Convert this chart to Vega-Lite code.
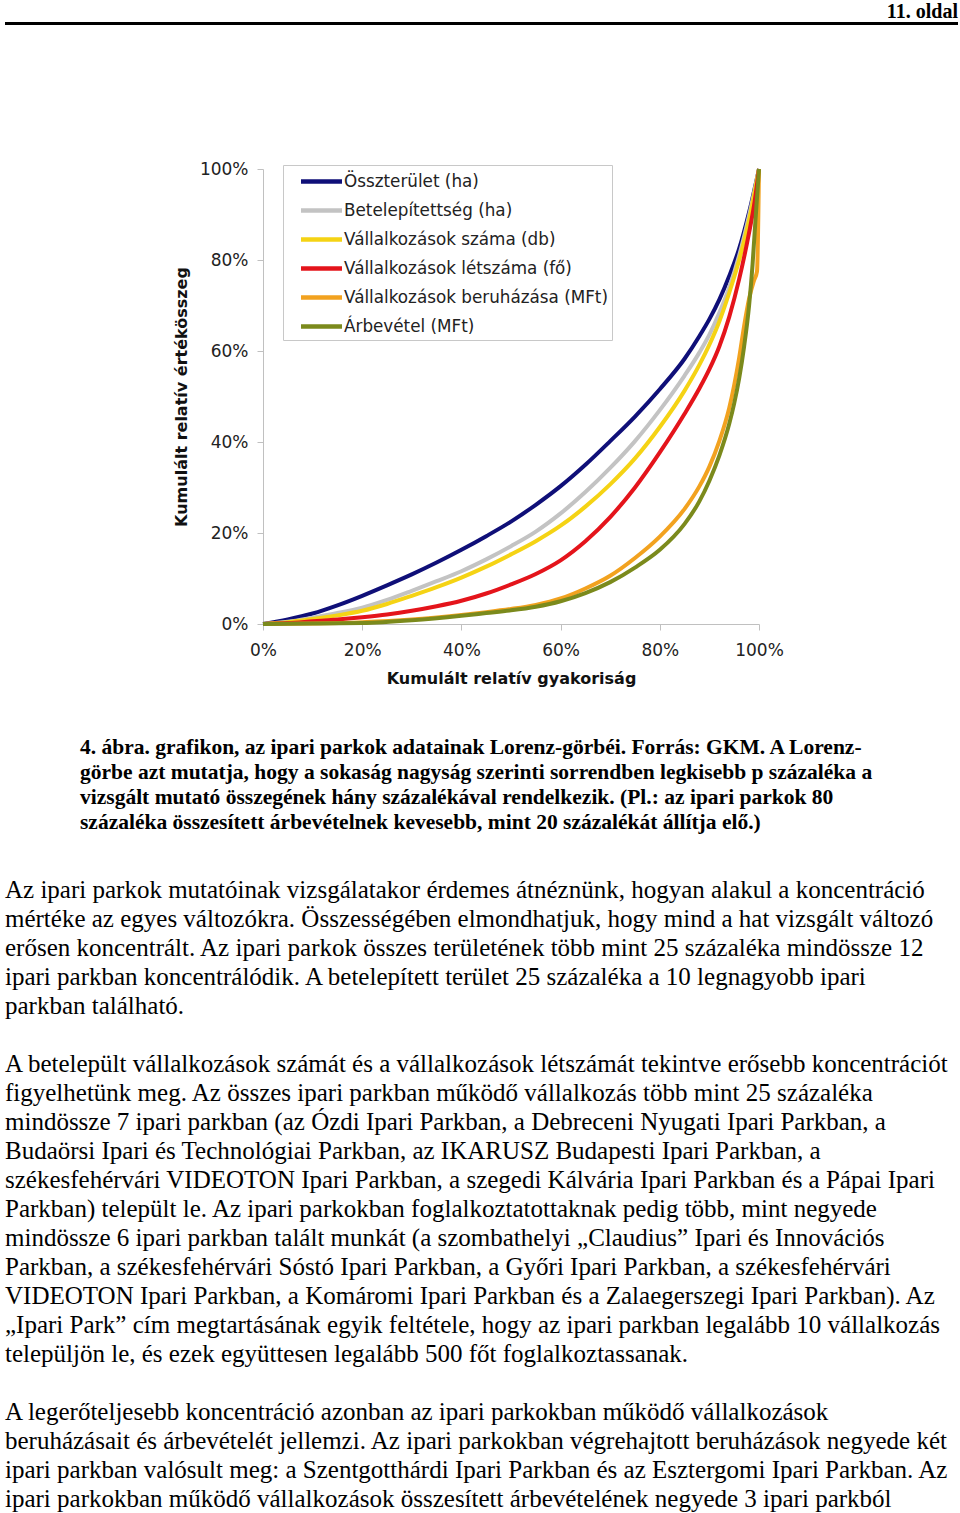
{
  "$schema": "https://vega.github.io/schema/vega-lite/v6.json",
  "background": "white",
  "padding": {"left": 5, "top": 2, "right": 0, "bottom": 0},
  "spacing": 0,
  "bounds": "full",
  "config": {"view": {"stroke": null}},
  "vconcat": [
    {
      "width": 953,
      "height": 3,
      "view": {"fill": "black", "stroke": null},
      "data": {"values": []},
      "mark": "point",
      "encoding": {},
      "title": {"text": "11. oldal", "anchor": "end", "font": "Liberation Serif", "fontSize": 20, "fontWeight": "bold", "color": "black", "offset": 0}
    },
    {"width": 1, "height": 134.5, "data": {"values": []}, "mark": "point", "encoding": {}},
    {
      "spacing": 0,
      "bounds": "flush",
      "hconcat": [
        {"width": 258, "height": 455, "data": {"values": []}, "mark": "point", "encoding": {}},
        {
          "width": 496,
          "height": 455,
          "data": {"values": [
            {"s": "Összterület (ha)", "x": 0, "y": 0},
            {"s": "Összterület (ha)", "x": 0.05, "y": 0.010},
            {"s": "Összterület (ha)", "x": 0.10, "y": 0.023},
            {"s": "Összterület (ha)", "x": 0.15, "y": 0.041},
            {"s": "Összterület (ha)", "x": 0.20, "y": 0.062},
            {"s": "Összterület (ha)", "x": 0.25, "y": 0.085},
            {"s": "Összterület (ha)", "x": 0.30, "y": 0.109},
            {"s": "Összterület (ha)", "x": 0.35, "y": 0.135},
            {"s": "Összterület (ha)", "x": 0.40, "y": 0.163},
            {"s": "Összterület (ha)", "x": 0.45, "y": 0.193},
            {"s": "Összterület (ha)", "x": 0.50, "y": 0.225},
            {"s": "Összterület (ha)", "x": 0.55, "y": 0.262},
            {"s": "Összterület (ha)", "x": 0.60, "y": 0.303},
            {"s": "Összterület (ha)", "x": 0.65, "y": 0.350},
            {"s": "Összterület (ha)", "x": 0.70, "y": 0.402},
            {"s": "Összterület (ha)", "x": 0.75, "y": 0.456},
            {"s": "Összterület (ha)", "x": 0.80, "y": 0.516},
            {"s": "Összterület (ha)", "x": 0.85, "y": 0.583},
            {"s": "Összterület (ha)", "x": 0.88, "y": 0.633},
            {"s": "Összterület (ha)", "x": 0.90, "y": 0.670},
            {"s": "Összterület (ha)", "x": 0.92, "y": 0.713},
            {"s": "Összterület (ha)", "x": 0.94, "y": 0.765},
            {"s": "Összterület (ha)", "x": 0.96, "y": 0.825},
            {"s": "Összterület (ha)", "x": 0.98, "y": 0.905},
            {"s": "Összterület (ha)", "x": 1.00, "y": 1.000},
            {"s": "Betelepítettség (ha)", "x": 0, "y": 0},
            {"s": "Betelepítettség (ha)", "x": 0.05, "y": 0.005},
            {"s": "Betelepítettség (ha)", "x": 0.10, "y": 0.014},
            {"s": "Betelepítettség (ha)", "x": 0.15, "y": 0.024},
            {"s": "Betelepítettség (ha)", "x": 0.20, "y": 0.036},
            {"s": "Betelepítettség (ha)", "x": 0.25, "y": 0.053},
            {"s": "Betelepítettség (ha)", "x": 0.30, "y": 0.073},
            {"s": "Betelepítettség (ha)", "x": 0.35, "y": 0.094},
            {"s": "Betelepítettség (ha)", "x": 0.40, "y": 0.116},
            {"s": "Betelepítettség (ha)", "x": 0.45, "y": 0.142},
            {"s": "Betelepítettség (ha)", "x": 0.50, "y": 0.171},
            {"s": "Betelepítettség (ha)", "x": 0.55, "y": 0.203},
            {"s": "Betelepítettség (ha)", "x": 0.60, "y": 0.243},
            {"s": "Betelepítettség (ha)", "x": 0.65, "y": 0.290},
            {"s": "Betelepítettség (ha)", "x": 0.70, "y": 0.343},
            {"s": "Betelepítettség (ha)", "x": 0.75, "y": 0.402},
            {"s": "Betelepítettség (ha)", "x": 0.80, "y": 0.470},
            {"s": "Betelepítettség (ha)", "x": 0.85, "y": 0.546},
            {"s": "Betelepítettség (ha)", "x": 0.88, "y": 0.597},
            {"s": "Betelepítettség (ha)", "x": 0.90, "y": 0.636},
            {"s": "Betelepítettség (ha)", "x": 0.92, "y": 0.684},
            {"s": "Betelepítettség (ha)", "x": 0.94, "y": 0.740},
            {"s": "Betelepítettség (ha)", "x": 0.96, "y": 0.810},
            {"s": "Betelepítettség (ha)", "x": 0.98, "y": 0.898},
            {"s": "Betelepítettség (ha)", "x": 1.00, "y": 1.000},
            {"s": "Vállalkozások száma (db)", "x": 0, "y": 0},
            {"s": "Vállalkozások száma (db)", "x": 0.05, "y": 0.004},
            {"s": "Vállalkozások száma (db)", "x": 0.10, "y": 0.011},
            {"s": "Vállalkozások száma (db)", "x": 0.15, "y": 0.019},
            {"s": "Vállalkozások száma (db)", "x": 0.20, "y": 0.029},
            {"s": "Vállalkozások száma (db)", "x": 0.25, "y": 0.044},
            {"s": "Vállalkozások száma (db)", "x": 0.30, "y": 0.062},
            {"s": "Vállalkozások száma (db)", "x": 0.35, "y": 0.081},
            {"s": "Vállalkozások száma (db)", "x": 0.40, "y": 0.102},
            {"s": "Vállalkozások száma (db)", "x": 0.45, "y": 0.126},
            {"s": "Vállalkozások száma (db)", "x": 0.50, "y": 0.153},
            {"s": "Vállalkozások száma (db)", "x": 0.55, "y": 0.182},
            {"s": "Vállalkozások száma (db)", "x": 0.60, "y": 0.216},
            {"s": "Vállalkozások száma (db)", "x": 0.65, "y": 0.258},
            {"s": "Vállalkozások száma (db)", "x": 0.70, "y": 0.307},
            {"s": "Vállalkozások száma (db)", "x": 0.75, "y": 0.364},
            {"s": "Vállalkozások száma (db)", "x": 0.80, "y": 0.433},
            {"s": "Vállalkozások száma (db)", "x": 0.85, "y": 0.513},
            {"s": "Vállalkozások száma (db)", "x": 0.88, "y": 0.570},
            {"s": "Vállalkozások száma (db)", "x": 0.90, "y": 0.614},
            {"s": "Vállalkozások száma (db)", "x": 0.92, "y": 0.665},
            {"s": "Vállalkozások száma (db)", "x": 0.94, "y": 0.728},
            {"s": "Vállalkozások száma (db)", "x": 0.96, "y": 0.800},
            {"s": "Vállalkozások száma (db)", "x": 0.98, "y": 0.888},
            {"s": "Vállalkozások száma (db)", "x": 1.00, "y": 1.000},
            {"s": "Vállalkozások létszáma (fő)", "x": 0, "y": 0},
            {"s": "Vállalkozások létszáma (fő)", "x": 0.05, "y": 0.002},
            {"s": "Vállalkozások létszáma (fő)", "x": 0.10, "y": 0.006},
            {"s": "Vállalkozások létszáma (fő)", "x": 0.15, "y": 0.010},
            {"s": "Vállalkozások létszáma (fő)", "x": 0.20, "y": 0.015},
            {"s": "Vállalkozások létszáma (fő)", "x": 0.25, "y": 0.021},
            {"s": "Vállalkozások létszáma (fő)", "x": 0.30, "y": 0.029},
            {"s": "Vállalkozások létszáma (fő)", "x": 0.35, "y": 0.039},
            {"s": "Vállalkozások létszáma (fő)", "x": 0.40, "y": 0.051},
            {"s": "Vállalkozások létszáma (fő)", "x": 0.45, "y": 0.067},
            {"s": "Vállalkozások létszáma (fő)", "x": 0.50, "y": 0.087},
            {"s": "Vállalkozások létszáma (fő)", "x": 0.55, "y": 0.110},
            {"s": "Vállalkozások létszáma (fő)", "x": 0.60, "y": 0.140},
            {"s": "Vállalkozások létszáma (fő)", "x": 0.65, "y": 0.182},
            {"s": "Vállalkozások létszáma (fő)", "x": 0.70, "y": 0.235},
            {"s": "Vállalkozások létszáma (fő)", "x": 0.75, "y": 0.300},
            {"s": "Vállalkozások létszáma (fő)", "x": 0.80, "y": 0.377},
            {"s": "Vállalkozások létszáma (fő)", "x": 0.85, "y": 0.462},
            {"s": "Vállalkozások létszáma (fő)", "x": 0.88, "y": 0.518},
            {"s": "Vállalkozások létszáma (fő)", "x": 0.90, "y": 0.560},
            {"s": "Vállalkozások létszáma (fő)", "x": 0.92, "y": 0.610},
            {"s": "Vállalkozások létszáma (fő)", "x": 0.94, "y": 0.675},
            {"s": "Vállalkozások létszáma (fő)", "x": 0.96, "y": 0.758},
            {"s": "Vállalkozások létszáma (fő)", "x": 0.98, "y": 0.860},
            {"s": "Vállalkozások létszáma (fő)", "x": 0.99, "y": 0.920},
            {"s": "Vállalkozások létszáma (fő)", "x": 1.00, "y": 1.000},
            {"s": "Vállalkozások beruházása (MFt)", "x": 0, "y": 0},
            {"s": "Vállalkozások beruházása (MFt)", "x": 0.10, "y": 0.001},
            {"s": "Vállalkozások beruházása (MFt)", "x": 0.20, "y": 0.004},
            {"s": "Vállalkozások beruházása (MFt)", "x": 0.30, "y": 0.010},
            {"s": "Vállalkozások beruházása (MFt)", "x": 0.40, "y": 0.020},
            {"s": "Vállalkozások beruházása (MFt)", "x": 0.45, "y": 0.026},
            {"s": "Vállalkozások beruházása (MFt)", "x": 0.50, "y": 0.033},
            {"s": "Vállalkozások beruházása (MFt)", "x": 0.55, "y": 0.042},
            {"s": "Vállalkozások beruházása (MFt)", "x": 0.60, "y": 0.056},
            {"s": "Vállalkozások beruházása (MFt)", "x": 0.65, "y": 0.078},
            {"s": "Vállalkozások beruházása (MFt)", "x": 0.70, "y": 0.106},
            {"s": "Vállalkozások beruházása (MFt)", "x": 0.75, "y": 0.145},
            {"s": "Vállalkozások beruházása (MFt)", "x": 0.80, "y": 0.192},
            {"s": "Vállalkozások beruházása (MFt)", "x": 0.85, "y": 0.253},
            {"s": "Vállalkozások beruházása (MFt)", "x": 0.88, "y": 0.303},
            {"s": "Vállalkozások beruházása (MFt)", "x": 0.90, "y": 0.346},
            {"s": "Vállalkozások beruházása (MFt)", "x": 0.92, "y": 0.402},
            {"s": "Vállalkozások beruházása (MFt)", "x": 0.94, "y": 0.475},
            {"s": "Vállalkozások beruházása (MFt)", "x": 0.95, "y": 0.525},
            {"s": "Vállalkozások beruházása (MFt)", "x": 0.96, "y": 0.585},
            {"s": "Vállalkozások beruházása (MFt)", "x": 0.97, "y": 0.655},
            {"s": "Vállalkozások beruházása (MFt)", "x": 0.98, "y": 0.715},
            {"s": "Vállalkozások beruházása (MFt)", "x": 0.99, "y": 0.755},
            {"s": "Vállalkozások beruházása (MFt)", "x": 0.996, "y": 0.775},
            {"s": "Vállalkozások beruházása (MFt)", "x": 1.00, "y": 1.000},
            {"s": "Árbevétel (MFt)", "x": 0, "y": 0},
            {"s": "Árbevétel (MFt)", "x": 0.10, "y": 0.001},
            {"s": "Árbevétel (MFt)", "x": 0.20, "y": 0.002},
            {"s": "Árbevétel (MFt)", "x": 0.30, "y": 0.008},
            {"s": "Árbevétel (MFt)", "x": 0.40, "y": 0.018},
            {"s": "Árbevétel (MFt)", "x": 0.45, "y": 0.024},
            {"s": "Árbevétel (MFt)", "x": 0.50, "y": 0.030},
            {"s": "Árbevétel (MFt)", "x": 0.55, "y": 0.038},
            {"s": "Árbevétel (MFt)", "x": 0.60, "y": 0.050},
            {"s": "Árbevétel (MFt)", "x": 0.65, "y": 0.068},
            {"s": "Árbevétel (MFt)", "x": 0.70, "y": 0.092},
            {"s": "Árbevétel (MFt)", "x": 0.75, "y": 0.124},
            {"s": "Árbevétel (MFt)", "x": 0.80, "y": 0.163},
            {"s": "Árbevétel (MFt)", "x": 0.85, "y": 0.220},
            {"s": "Árbevétel (MFt)", "x": 0.88, "y": 0.270},
            {"s": "Árbevétel (MFt)", "x": 0.90, "y": 0.315},
            {"s": "Árbevétel (MFt)", "x": 0.92, "y": 0.370},
            {"s": "Árbevétel (MFt)", "x": 0.94, "y": 0.440},
            {"s": "Árbevétel (MFt)", "x": 0.95, "y": 0.485},
            {"s": "Árbevétel (MFt)", "x": 0.96, "y": 0.540},
            {"s": "Árbevétel (MFt)", "x": 0.97, "y": 0.610},
            {"s": "Árbevétel (MFt)", "x": 0.98, "y": 0.700},
            {"s": "Árbevétel (MFt)", "x": 0.987, "y": 0.790},
            {"s": "Árbevétel (MFt)", "x": 0.993, "y": 0.890},
            {"s": "Árbevétel (MFt)", "x": 1.00, "y": 1.000}
          ]},
          "mark": {"type": "line", "strokeWidth": 4, "interpolate": "monotone", "clip": false},
          "encoding": {
            "x": {
              "field": "x", "type": "quantitative",
              "scale": {"domain": [0, 1], "nice": false, "zero": false},
              "axis": {
                "values": [0, 0.2, 0.4, 0.6, 0.8, 1], "format": ".0%", "grid": false,
                "domainColor": "#c0c0c0", "tickColor": "#c0c0c0", "tickSize": 6,
                "labelFont": "DejaVu Sans", "labelFontSize": 17, "labelColor": "#222222", "labelPadding": 12, "labelFlush": false,
                "title": "Kumulált relatív gyakoriság", "titleFont": "DejaVu Sans", "titleFontSize": 16, "titleFontWeight": "bold", "titleColor": "#111111", "titlePadding": 12
              }
            },
            "y": {
              "field": "y", "type": "quantitative",
              "scale": {"domain": [0, 1], "nice": false, "zero": false},
              "axis": {
                "values": [0, 0.2, 0.4, 0.6, 0.8, 1], "format": ".0%", "grid": false,
                "domainColor": "#c0c0c0", "tickColor": "#c0c0c0", "tickSize": 6,
                "labelFont": "DejaVu Sans", "labelFontSize": 17, "labelColor": "#222222", "labelPadding": 9, "labelFlush": false,
                "title": "Kumulált relatív értékösszeg", "titleFont": "DejaVu Sans", "titleFontSize": 16, "titleFontWeight": "bold", "titleColor": "#111111", "titlePadding": 10
              }
            },
            "color": {
              "field": "s", "type": "nominal",
              "scale": {
                "domain": ["Összterület (ha)", "Betelepítettség (ha)", "Vállalkozások száma (db)", "Vállalkozások létszáma (fő)", "Vállalkozások beruházása (MFt)", "Árbevétel (MFt)"],
                "range": ["#0f0f78", "#c3c3c3", "#f5d314", "#e4141b", "#f2a21f", "#7b8a1c"]
              },
              "legend": {
                "orient": "none", "legendX": 278, "legendY": 143, "title": null,
                "symbolType": "M-2,0H2", "symbolStrokeWidth": 4.5, "symbolSize": 420, "symbolOffset": 22,
                "labelFont": "DejaVu Sans", "labelFontSize": 16.8, "labelColor": "#222222", "labelOffset": 10, "labelLimit": 400,
                "strokeColor": "#c8c8c8", "fillColor": "white", "padding": 4, "rowPadding": 7
              }
            }
          }
        }
      ]
    },
    {"width": 1, "height": 50, "data": {"values": []}, "mark": "point", "encoding": {}},
    {
      "spacing": 0,
      "bounds": "flush",
      "hconcat": [
        {"width": 75, "height": 99, "data": {"values": []}, "mark": "point", "encoding": {}},
        {
          "width": 800,
          "height": 99,
          "data": {"values": [
            {"i": 0, "t": "4. ábra. grafikon, az ipari parkok adatainak Lorenz-görbéi. Forrás: GKM. A Lorenz-"},
            {"i": 1, "t": "görbe azt mutatja, hogy a sokaság nagyság szerinti sorrendben legkisebb p százaléka a"},
            {"i": 2, "t": "vizsgált mutató összegének hány százalékával rendelkezik. (Pl.: az ipari parkok 80"},
            {"i": 3, "t": "százaléka összesített árbevételnek kevesebb, mint 20 százalékát állítja elő.)"}
          ]},
          "mark": {"type": "text", "align": "left", "baseline": "middle", "font": "Liberation Serif", "fontSize": 21.5, "fontWeight": "bold", "color": "black"},
          "encoding": {
            "x": {"datum": 0, "type": "quantitative", "scale": {"domain": [0, 1], "nice": false, "zero": false}, "axis": null},
            "y": {"field": "i", "type": "quantitative", "scale": {"domain": [-0.5, 3.5], "reverse": true, "nice": false, "zero": false}, "axis": null},
            "text": {"field": "t"}
          }
        }
      ]
    },
    {"width": 1, "height": 40, "data": {"values": []}, "mark": "point", "encoding": {}},
    {
      "width": 955,
      "height": 638,
      "data": {"values": [
        {"i": 0, "t": "Az ipari parkok mutatóinak vizsgálatakor érdemes átnéznünk, hogyan alakul a koncentráció"},
        {"i": 1, "t": "mértéke az egyes változókra. Összességében elmondhatjuk, hogy mind a hat vizsgált változó"},
        {"i": 2, "t": "erősen koncentrált. Az ipari parkok összes területének több mint 25 százaléka mindössze 12"},
        {"i": 3, "t": "ipari parkban koncentrálódik. A betelepített terület 25 százaléka a 10 legnagyobb ipari"},
        {"i": 4, "t": "parkban található."},
        {"i": 6, "t": "A betelepült vállalkozások számát és a vállalkozások létszámát tekintve erősebb koncentrációt"},
        {"i": 7, "t": "figyelhetünk meg. Az összes ipari parkban működő vállalkozás több mint 25 százaléka"},
        {"i": 8, "t": "mindössze 7 ipari parkban (az Ózdi Ipari Parkban, a Debreceni Nyugati Ipari Parkban, a"},
        {"i": 9, "t": "Budaörsi Ipari és Technológiai Parkban, az IKARUSZ Budapesti Ipari Parkban, a"},
        {"i": 10, "t": "székesfehérvári VIDEOTON Ipari Parkban, a szegedi Kálvária Ipari Parkban és a Pápai Ipari"},
        {"i": 11, "t": "Parkban) települt le. Az ipari parkokban foglalkoztatottaknak pedig több, mint negyede"},
        {"i": 12, "t": "mindössze 6 ipari parkban talált munkát (a szombathelyi „Claudius” Ipari és Innovációs"},
        {"i": 13, "t": "Parkban, a székesfehérvári Sóstó Ipari Parkban, a Győri Ipari Parkban, a székesfehérvári"},
        {"i": 14, "t": "VIDEOTON Ipari Parkban, a Komáromi Ipari Parkban és a Zalaegerszegi Ipari Parkban). Az"},
        {"i": 15, "t": "„Ipari Park” cím megtartásának egyik feltétele, hogy az ipari parkban legalább 10 vállalkozás"},
        {"i": 16, "t": "települjön le, és ezek együttesen legalább 500 főt foglalkoztassanak."},
        {"i": 18, "t": "A legerőteljesebb koncentráció azonban az ipari parkokban működő vállalkozások"},
        {"i": 19, "t": "beruházásait és árbevételét jellemzi. Az ipari parkokban végrehajtott beruházások negyede két"},
        {"i": 20, "t": "ipari parkban valósult meg: a Szentgotthárdi Ipari Parkban és az Esztergomi Ipari Parkban. Az"},
        {"i": 21, "t": "ipari parkokban működő vállalkozások összesített árbevételének negyede 3 ipari parkból"}
      ]},
      "mark": {"type": "text", "align": "left", "baseline": "middle", "font": "Liberation Serif", "fontSize": 25, "color": "black"},
      "encoding": {
        "x": {"datum": 0, "type": "quantitative", "scale": {"domain": [0, 1], "nice": false, "zero": false}, "axis": null},
        "y": {"field": "i", "type": "quantitative", "scale": {"domain": [-0.5, 21.5], "reverse": true, "nice": false, "zero": false}, "axis": null},
        "text": {"field": "t"}
      }
    }
  ]
}
